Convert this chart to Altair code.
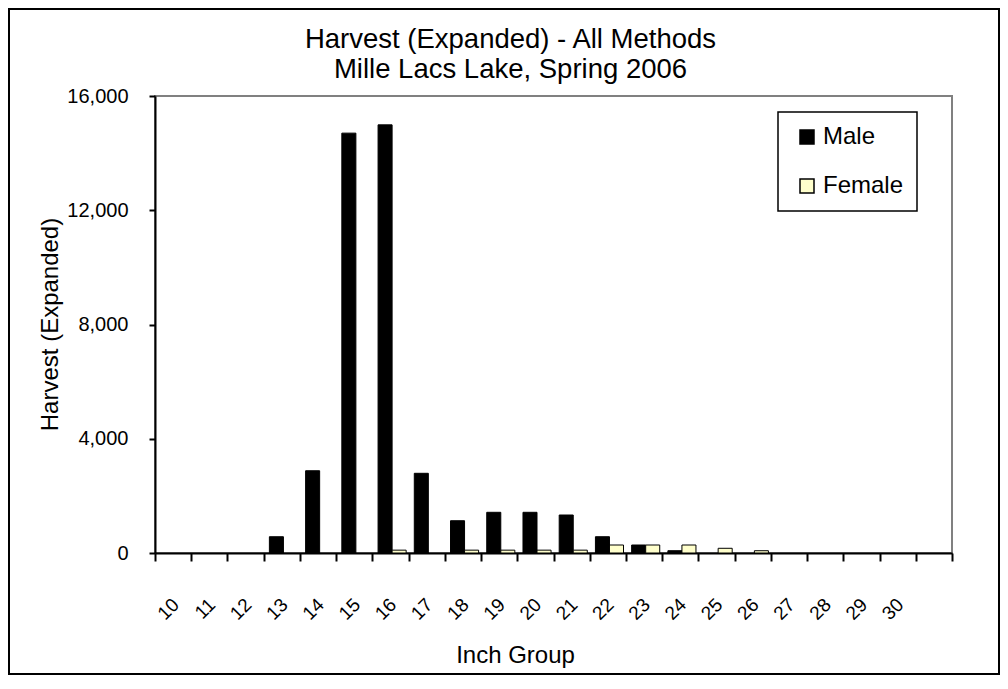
import altair as alt
import pandas as pd

# Data
inch_groups = [str(i) for i in range(10, 31)]
male = [0, 0, 0, 570, 2880, 14700, 14990, 2790, 1130, 1425, 1425, 1330,
        570, 280, 80, 0, 0, 0, 0, 0, 0]
female = [0, 0, 0, 0, 0, 0, 100, 0, 100, 100, 100, 100,
          280, 280, 280, 165, 80, 0, 0, 0, 0]
sexes = ["Male", "Female"]
sex_colors = ["#000000", "#FFFFCC"]
y_ticks = [0, 4000, 8000, 12000, 16000]
title_lines = ["Harvest (Expanded) - All Methods", "Mille Lacs Lake, Spring 2006"]

rows = []
for g, m, f in zip(inch_groups, male, female):
    rows.append({"inch": g, "sex": "Male", "harvest": m})
    rows.append({"inch": g, "sex": "Female", "harvest": f})
df = pd.DataFrame(rows)

x_domain = inch_groups + [" "]
FONT = "Liberation Sans"

bars = alt.Chart(df).transform_filter("datum.harvest > 0").mark_bar(
    stroke="black", strokeWidth=1
).encode(
    x=alt.X("inch:N",
            scale=alt.Scale(domain=x_domain, paddingInner=0, paddingOuter=0),
            axis=alt.Axis(title="Inch Group", labelAngle=315, labelAlign="right",
                          labelBaseline="top", labelPadding=34, labelFontSize=19,
                          labelOffset=-4,
                          labelOverlap=False, tickBand="extent", tickSize=8,
                          titleX=360, titleY=102, titleAlign="center",
                          titleBaseline="middle", titleFontSize=24)),
    xOffset=alt.XOffset("sex:N", sort=sexes,
                        scale=alt.Scale(domain=sexes, paddingInner=0,
                                        paddingOuter=0.29, align=0.7)),
    y=alt.Y("harvest:Q",
            scale=alt.Scale(domain=[0, 16000], nice=False, zero=True),
            axis=alt.Axis(title="Harvest (Expanded)", values=y_ticks, format=",.0f",
                          labelFontSize=20, labelPadding=21, tickSize=6,
                          titleAngle=270, titleX=-105, titleY=228,
                          titleAlign="center", titleBaseline="middle",
                          titleFontSize=24)),
    color=alt.Color("sex:N",
                    scale=alt.Scale(domain=sexes, range=sex_colors),
                    legend=alt.Legend(title=None, orient="none", legendX=623,
                                      legendY=16, symbolType="square",
                                      symbolSize=196, symbolStrokeColor="black",
                                      symbolStrokeWidth=1.5, labelFontSize=24,
                                      labelOffset=4, rowPadding=25, padding=13,
                                      symbolOffset=4, strokeColor="black",
                                      fillColor="white")),
)

frame = alt.Chart(alt.Data(values=[{"a": 1}])).mark_rect(
    fill="white", fillOpacity=0, stroke="black", strokeWidth=2
).encode(
    x=alt.value(-146), x2=alt.value(844), y=alt.value(-87), y2=alt.value(578)
)

chart = alt.layer(frame, bars).properties(
    width=797,
    height=457,
    autosize=alt.AutoSizeParams(type="none"),
    padding={"left": 147, "top": 88, "right": 48, "bottom": 123},
    title=alt.TitleParams(title_lines, fontSize=27.5, font=FONT,
                          fontWeight="normal", color="black", anchor="middle",
                          dx=-43, offset=0, dy=103, baseline="bottom", lineHeight=29.5),
).configure(
    font=FONT,
).configure_view(
    stroke="#808080", strokeWidth=2
).configure_axis(
    grid=False, domainColor="black", domainWidth=2, tickColor="black",
    tickWidth=2, labelColor="black", titleColor="black", labelFont=FONT,
    titleFont=FONT, titleFontWeight="normal"
).configure_legend(
    labelFont=FONT, labelColor="black", strokeWidth=1.5
)

chart.save("out.html", embed_options={"renderer": "svg", "actions": False})
